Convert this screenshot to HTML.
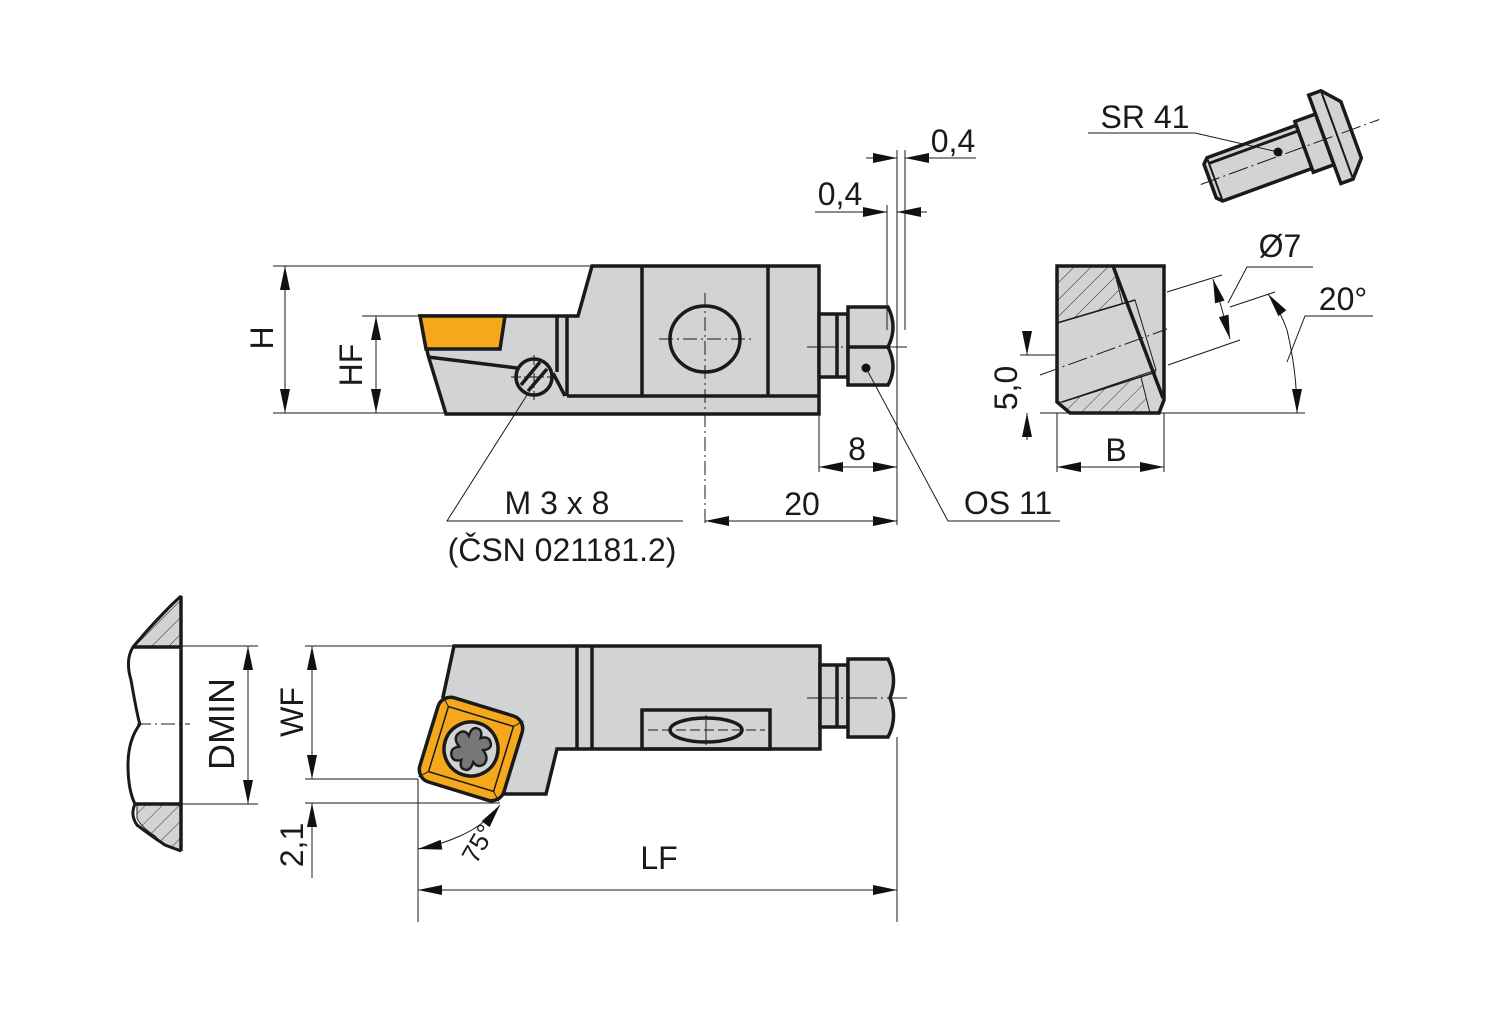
<!DOCTYPE html>
<html><head><meta charset="utf-8"><style>
html,body{margin:0;padding:0;background:#fff;}
svg{display:block;}
text{font-family:"Liberation Sans",sans-serif;fill:#1a1a1a;}
</style></head><body>
<svg width="1500" height="1009" viewBox="0 0 1500 1009" xmlns="http://www.w3.org/2000/svg">
<defs>
<marker id="a" viewBox="0 0 24 10" refX="24" refY="5" markerWidth="24" markerHeight="10" markerUnits="userSpaceOnUse" orient="auto-start-reverse"><path d="M0,0 L24,5 L0,10 Z" fill="#111"/></marker>
<pattern id="h" width="12" height="12" patternUnits="userSpaceOnUse" patternTransform="rotate(45)"><rect width="12" height="12" fill="#d2d3d5"/><line x1="0" y1="0" x2="0" y2="12" stroke="#333" stroke-width="1"/></pattern>
</defs>
<g stroke="#1a1a1a" stroke-width="1" fill="none">
<!-- ===== Top view ===== -->
<line x1="273" y1="266" x2="592" y2="266"/>
<line x1="273" y1="413" x2="446" y2="413"/>
<line x1="362" y1="316" x2="420" y2="316"/>
<line x1="285" y1="266" x2="285" y2="413" marker-start="url(#a)" marker-end="url(#a)"/>
<line x1="376" y1="316" x2="376" y2="413" marker-start="url(#a)" marker-end="url(#a)"/>
<polygon points="420,316 578,316 592,266 819,266 819,414 446,414 428,355" fill="#d2d3d5" stroke-width="3.5"/>
<polygon points="420,316 505,316 500,349 426,349" fill="#f5a81c" stroke-width="3.5"/>
<g stroke-width="3.5">
<line x1="557" y1="316" x2="557" y2="372"/>
<line x1="567" y1="316" x2="567" y2="396"/>
<line x1="567" y1="396" x2="819" y2="396"/>
<line x1="642" y1="266" x2="642" y2="396"/>
<line x1="768" y1="266" x2="768" y2="396"/>
<line x1="428" y1="357" x2="517" y2="368"/>
<line x1="553" y1="373" x2="565" y2="396"/>
<circle cx="534" cy="377" r="18" fill="#d2d3d5"/>
<line x1="521" y1="385" x2="540" y2="362"/>
<line x1="528" y1="391" x2="547" y2="369"/>
<ellipse cx="705" cy="339" rx="35" ry="33"/>
<rect x="819" y="314" width="29" height="63" fill="#d2d3d5"/>
<line x1="837" y1="314" x2="837" y2="377"/>
<path d="M848,307 L888,307 Q898,327 888,347 Q898,367 888,385 L848,385 Z" fill="#d2d3d5"/>
<line x1="848" y1="347" x2="890" y2="347"/>
</g>
<line x1="534" y1="355" x2="534" y2="400" stroke-dasharray="10,3,2,3"/>
<line x1="511" y1="377" x2="556" y2="377" stroke-dasharray="10,3,2,3"/>
<line x1="705" y1="293" x2="705" y2="525" stroke-dasharray="14,4,2,4"/>
<line x1="659" y1="339" x2="752" y2="339" stroke-dasharray="14,4,2,4"/>
<line x1="807" y1="347" x2="907" y2="347" stroke-dasharray="30,4,2,4"/>
<circle cx="866" cy="368" r="4" fill="#111"/>
<!-- 0,4 dims -->
<line x1="887" y1="205" x2="887" y2="330"/>
<line x1="897" y1="150" x2="897" y2="525"/>
<line x1="905" y1="150" x2="905" y2="330"/>
<line x1="866" y1="158" x2="897" y2="158" marker-end="url(#a)"/>
<line x1="976" y1="158" x2="905" y2="158" marker-end="url(#a)"/>
<line x1="815" y1="212" x2="887" y2="212" marker-end="url(#a)"/>
<line x1="927" y1="212" x2="897" y2="212" marker-end="url(#a)"/>
<line x1="819" y1="414" x2="819" y2="472"/>
<line x1="819" y1="467" x2="897" y2="467" marker-start="url(#a)" marker-end="url(#a)"/>
<line x1="705" y1="521" x2="897" y2="521" marker-start="url(#a)" marker-end="url(#a)"/>
<polyline points="527,395 447,521 683,521"/>
<polyline points="866,368 948,521 1060,521"/>
<!-- ===== Side block ===== -->
<line x1="1040" y1="413" x2="1305" y2="413"/>
<polygon points="1057,266 1164,266 1164,400 1159,413 1070,413 1057,402" fill="url(#h)"/>
<polygon points="1113,266 1164,266 1164,400 1159,413 1150,413" fill="#d2d3d5"/>
<polygon points="1057,323 1135,300 1156,370 1062,402 1057,402" fill="#d2d3d5"/>
<polygon points="1057,266 1164,266 1164,400 1159,413 1070,413 1057,402" stroke-width="3.5"/>
<line x1="1113" y1="266" x2="1163" y2="398" stroke-width="3.5"/>
<line x1="1057" y1="323" x2="1135" y2="300" stroke-width="1.5"/>
<line x1="1062" y1="402" x2="1156" y2="372" stroke-width="1.5"/>
<line x1="1167" y1="292" x2="1222" y2="275"/>
<line x1="1168" y1="365" x2="1240" y2="340"/>
<line x1="1040" y1="375" x2="1167" y2="329" stroke-dasharray="20,4,2,4"/>
<line x1="1230" y1="307" x2="1275" y2="292"/>
<line x1="1221" y1="306" x2="1213" y2="279" marker-end="url(#a)"/>
<line x1="1221" y1="306" x2="1230" y2="339" marker-end="url(#a)"/>
<polyline points="1228,303 1247,267 1313,267"/>
<path d="M1287,330 Q1297,372 1297,413" marker-end="url(#a)"/>
<path d="M1287,330 Q1280,310 1268,294" marker-end="url(#a)"/>
<polyline points="1287,362 1305,316 1373,316"/>
<line x1="1020" y1="355" x2="1057" y2="355"/>
<line x1="1027" y1="335" x2="1027" y2="355" marker-end="url(#a)"/>
<line x1="1027" y1="440" x2="1027" y2="413" marker-end="url(#a)"/>
<line x1="1057" y1="413" x2="1057" y2="472"/>
<line x1="1164" y1="413" x2="1164" y2="472"/>
<line x1="1057" y1="467" x2="1164" y2="467" marker-start="url(#a)" marker-end="url(#a)"/>
<!-- SR41 screw -->
<g transform="translate(1290,152) rotate(-20)">
<polygon points="-85,-18 -80,-23 15,-23 15,23 -80,23 -85,18" fill="#d2d3d5" stroke-width="3.5"/>
<line x1="-80" y1="-17" x2="15" y2="-17" stroke-width="3"/>
<line x1="-80" y1="-23" x2="-80" y2="23" stroke-width="2"/>
<rect x="15" y="-27" width="22" height="54" fill="#d2d3d5" stroke-width="3.5"/>
<polygon points="37,-47 50,-47 65,-30 65,30 50,47 37,47" fill="#d2d3d5" stroke-width="3.5"/>
<line x1="50" y1="-47" x2="50" y2="47" stroke-width="2"/>
<line x1="-95" y1="0" x2="95" y2="0" stroke-dasharray="20,4,2,4"/>
</g>
<circle cx="1278" cy="152" r="4" fill="#111"/>
<polyline points="1088,133 1195,133 1278,152"/>
<!-- ===== Bottom view ===== -->
<path d="M133,647 L181,596 L181,647 Z" fill="url(#h)"/>
<path d="M137,804 L181,804 L181,851 Q165,848 155,836 Q140,826 137,818 Z" fill="url(#h)"/>
<path d="M181,596 L181,851" stroke-width="3.5"/>
<path d="M181,596 Q160,615 133,647 Q125,660 131,680 Q138,720 140,724 Q128,740 128,765 Q128,790 135,804 Q130,815 137,825 Q150,835 165,845 L181,851" stroke-width="3"/>
<line x1="133" y1="647" x2="181" y2="647" stroke-width="3.5"/>
<line x1="135" y1="804" x2="181" y2="804" stroke-width="3.5"/>
<line x1="181" y1="646" x2="258" y2="646"/>
<line x1="181" y1="804" x2="258" y2="804"/>
<line x1="248" y1="646" x2="248" y2="804" marker-start="url(#a)" marker-end="url(#a)"/>
<line x1="137" y1="724" x2="190" y2="724" stroke-dasharray="14,4,2,4"/>
<line x1="305" y1="646" x2="454" y2="646"/>
<line x1="305" y1="779" x2="418" y2="779"/>
<line x1="305" y1="803" x2="500" y2="803"/>
<line x1="312" y1="646" x2="312" y2="779" marker-start="url(#a)" marker-end="url(#a)"/>
<line x1="312" y1="878" x2="312" y2="803" marker-end="url(#a)"/>
<polygon points="454,646 820,646 820,749 557,749 546,794 470,794 443,697" fill="#d2d3d5" stroke-width="3.5"/>
<g stroke-width="3.5">
<line x1="577" y1="646" x2="577" y2="749"/>
<line x1="592" y1="646" x2="592" y2="749"/>
<rect x="642" y="710" width="128" height="39"/>
<ellipse cx="706" cy="730" rx="36" ry="12"/>
<rect x="820" y="665" width="28" height="62" fill="#d2d3d5"/>
<line x1="837" y1="665" x2="837" y2="727"/>
<path d="M848,659 L888,659 Q898,678 890,698 Q898,718 888,737 L848,737 Z" fill="#d2d3d5"/>
</g>
<line x1="648" y1="730" x2="765" y2="730" stroke-dasharray="10,4"/>
<line x1="706" y1="715" x2="706" y2="745"/>
<line x1="807" y1="698" x2="907" y2="698" stroke-dasharray="30,4,2,4"/>
<g transform="translate(471,749) rotate(17)">
<rect x="-44" y="-44" width="88" height="88" rx="13" fill="#f5a81c" stroke-width="3.5"/>
<rect x="-34" y="-34" width="68" height="68" stroke-width="1.5"/>
<line x1="-42" y1="-42" x2="-34" y2="-34"/><line x1="42" y1="-42" x2="34" y2="-34"/>
<line x1="-42" y1="42" x2="-34" y2="34"/><line x1="42" y1="42" x2="34" y2="34"/>
<circle r="27" fill="#d2d3d5" stroke-width="3.5"/>
<path transform="scale(1.2)" d="M0,-18 Q5,-18 5,-11 Q11,-15 14,-10 Q17,-5 10,-2 Q17,3 14,9 Q10,14 5,10 Q5,18 0,18 Q-5,18 -5,11 Q-11,15 -14,10 Q-17,4 -10,1 Q-17,-4 -14,-9 Q-10,-15 -5,-10 Q-5,-18 0,-18 Z" fill="#777" stroke-width="2"/>
</g>
<line x1="418" y1="779" x2="418" y2="922"/>
<line x1="897" y1="737" x2="897" y2="922"/>
<line x1="418" y1="890" x2="897" y2="890" marker-start="url(#a)" marker-end="url(#a)"/>
<path d="M460,836 Q485,825 500,805" marker-end="url(#a)"/>
<path d="M460,836 Q440,845 418,849" marker-end="url(#a)"/>
</g>
<!-- Labels -->
<g font-size="32">
<text transform="translate(273,338) rotate(-90)" text-anchor="middle">H</text>
<text transform="translate(362,365) rotate(-90)" text-anchor="middle">HF</text>
<text x="953" y="152" text-anchor="middle">0,4</text>
<text x="840" y="205" text-anchor="middle">0,4</text>
<text x="857" y="460" text-anchor="middle">8</text>
<text x="802" y="515" text-anchor="middle">20</text>
<text x="557" y="514" text-anchor="middle">M 3 x 8</text>
<text x="562" y="561" text-anchor="middle">(ČSN 021181.2)</text>
<text x="1008" y="514" text-anchor="middle">OS 11</text>
<text x="1145" y="128" text-anchor="middle">SR 41</text>
<text x="1280" y="257" text-anchor="middle">Ø7</text>
<text x="1343" y="310" text-anchor="middle">20°</text>
<text transform="translate(1017,388) rotate(-90)" text-anchor="middle">5,0</text>
<text x="1116" y="461" text-anchor="middle">B</text>
<text transform="translate(234,724) rotate(-90)" text-anchor="middle" font-size="36">DMIN</text>
<text transform="translate(303,712) rotate(-90)" text-anchor="middle">WF</text>
<text transform="translate(303,845) rotate(-90)" text-anchor="middle">2,1</text>
<text x="659" y="869" text-anchor="middle">LF</text>
<text transform="translate(486,848) rotate(-60)" text-anchor="middle" font-size="26">75°</text>
</g>
</svg>
</body></html>
